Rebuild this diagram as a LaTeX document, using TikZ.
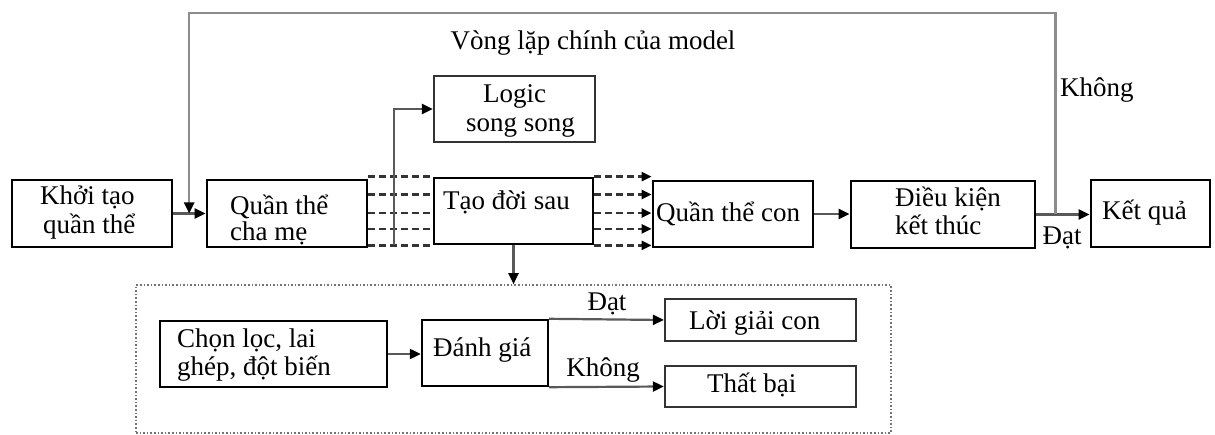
\documentclass[tikz,border=0pt]{standalone}
\usepackage{fontspec}
\setmainfont{Liberation Serif}
\usetikzlibrary{arrows.meta,calc}
\begin{document}
\begin{tikzpicture}[x=1pt,y=-1pt,
  box/.style={draw=black, line width=2.8pt, inner sep=0pt},
  lbox/.style={draw=black!80, line width=2.2pt, inner sep=0pt},
  region/.style={draw=black!55, line width=1.6pt, dotted, inner sep=0pt},
  txt/.style={font=\fontsize{27}{30}\selectfont, inner sep=0pt, anchor=base west},
  ctxt/.style={font=\fontsize{27}{30}\selectfont, inner sep=0pt, anchor=base},
  conn/.style={draw=black!65, line width=2.2pt},
  arr/.style={conn, -{Triangle[length=11pt,width=10pt,color=black]}},
  dline/.style={draw=black!80, line width=2.4pt, dash pattern=on 7pt off 4pt},
  darr/.style={dline, -{Triangle[length=10pt,width=9pt,color=black]}},
  loopline/.style={draw=black!45, line width=2.5pt, -{Triangle[length=11pt,width=10pt,color=black]}}
]
\useasboundingbox (0,0) rectangle (1215,435);

% main boxes
\node[box, minimum width=160pt, minimum height=67pt] (init) at (92,213.5) {};
\node[box, minimum width=160pt, minimum height=67pt] (parent) at (287,213.5) {};
\node[lbox, minimum width=161pt, minimum height=66pt] (logic) at (514.5,109) {};
\node[box, minimum width=159pt, minimum height=66pt] (gen) at (513.5,211) {};
\node[box, minimum width=160pt, minimum height=66pt] (child) at (733,214) {};
\node[box, minimum width=184pt, minimum height=67pt] (cond) at (943,214.5) {};
\node[box, minimum width=119pt, minimum height=67pt] (result) at (1150.5,213.5) {};

% lower region
\node[region, minimum width=755pt, minimum height=148pt] (reg) at (513.5,359) {};
\node[box, line width=2.4pt, minimum width=227pt, minimum height=66pt] (sel) at (273.5,354) {};
\node[box, line width=2.4pt, minimum width=126pt, minimum height=66pt] (eval) at (485,353) {};
\node[lbox, minimum width=191pt, minimum height=42pt] (sol) at (760.5,320) {};
\node[lbox, minimum width=191pt, minimum height=41pt] (fail) at (760.5,386.5) {};

% texts
\node[txt] (t1a) at (40,205) {Khởi tạo};
\node[txt] (t1b) at (43,234) {quần thể};
\node[txt] (t2a) at (230,215) {Quần thể};
\node[txt] (t2b) at (230,241) {cha mẹ};
\node[txt] (t3a) at (483,103) {Logic};
\node[txt] (t3b) at (466,132) {song song};
\node[txt] (t4) at (443,210) {Tạo đời sau};
\node[txt] (t5) at (656,222) {Quần thể con};
\node[txt] (t6a) at (895,207) {Điều kiện};
\node[txt] (t6b) at (895,235) {kết thúc};
\node[txt] (t7) at (1102,220) {Kết quả};
\node[txt] (t8a) at (177,348) {Chọn lọc, lai};
\node[txt] (t8b) at (177,376) {ghép, đột biến};
\node[txt] (t9) at (433,357) {Đánh giá};
\node[txt] (t10) at (689,330) {Lời giải con};
\node[txt] (t11) at (707,392) {Thất bại};

% labels
\node[ctxt] (title) at (593,50) {Vòng lặp chính của model};
\node[txt] (khong1) at (1060,97) {Không};
\node[ctxt] (dat1) at (1062,245) {Đạt};
\node[ctxt] (dat2) at (607,311) {Đạt};
\node[ctxt] (khong2) at (603,377) {Không};

% connectors
\draw[arr] (init.east) -- (parent.west);
\foreach \t [count=\i] in {0,0.26,0.53,0.76,1} {
  \coordinate (gl\i) at ($(gen.north west)!\t!(gen.south west)$);
  \coordinate (gr\i) at ($(gen.north east)!\t!(gen.south east)$);
  \draw[dline] (parent.east |- gl\i) -- (gl\i);
  \draw[darr] (gr\i) -- (child.west |- gr\i);
}
\coordinate (lb) at ($(parent.east |- gl5)!0.4!(gl5)$);
\draw[arr] (lb) |- (logic.west);
\draw[arr] (gen.south) -- (gen.south |- reg.north);
\draw[arr] (child.east) -- (child.east -| cond.west);
\draw[arr] (cond.east) -- (cond.east -| result.west);
\coordinate (lp) at ($(cond.east)!0.36!(cond.east -| result.west)$);
\coordinate (ip) at ($(init.east)!0.49!(parent.west)$);
\coordinate (top) at (600,13);
\draw[loopline] (lp) |- (top) -| (ip);
\draw[arr] (sel.east) -- (sel.east -| eval.west);
\draw[arr] (eval.north east) -- (sol.west);
\draw[arr] (eval.south east) -- (fail.west);
\end{tikzpicture}
\end{document}
